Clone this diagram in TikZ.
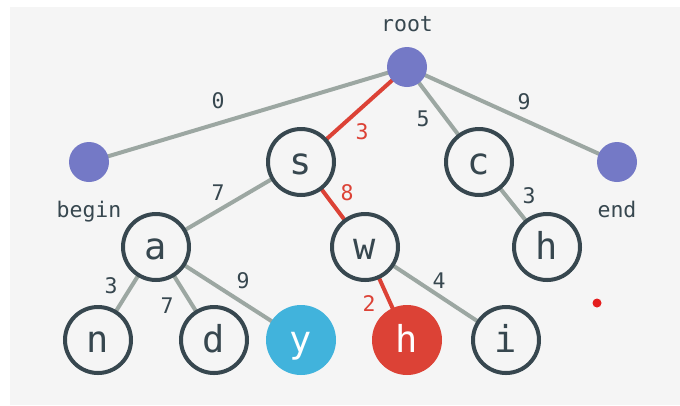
\documentclass[tikz,border=0pt]{standalone}
\usepackage{fontspec}
\newfontfamily\treefont{DejaVu Sans Mono}
\definecolor{panel}{HTML}{F5F5F5}
\definecolor{hubfill}{HTML}{7479C6}
\definecolor{edgegray}{HTML}{9CA7A2}
\definecolor{ink}{HTML}{37474F}
\definecolor{hot}{HTML}{DC4236}
\definecolor{sky}{HTML}{41B3DC}
\definecolor{marker}{HTML}{E41E1E}
\tikzset{
  hub/.style={circle, fill=hubfill, minimum size=40bp, inner sep=0pt},
  letter/.style={circle, draw=ink, line width=4bp, fill=panel, minimum size=66bp, inner sep=0pt,
    text=ink, font=\treefont\fontsize{37bp}{37bp}\selectfont, text height=25bp, text depth=0pt},
  picked/.style={letter, draw=none, fill=hot, text=white, minimum size=70bp},
  found/.style={letter, draw=none, fill=sky, text=white, minimum size=70bp},
  link/.style={draw=edgegray, line width=4bp},
  hotlink/.style={draw=hot, line width=4bp},
  weight/.style={anchor=base, inner sep=0pt, text=ink, font=\treefont\fontsize{21.5bp}{21.5bp}\selectfont},
  hotweight/.style={weight, text=hot},
  caption/.style={weight},
}
\begin{document}
\begin{tikzpicture}[x=1bp,y=-1bp]
\fill[white] (0,0) rectangle (680,405);
\fill[panel] (10,7) rectangle (680,405);
\useasboundingbox (0,0) rectangle (680,405);

% vertices
\coordinate (rootc) at (407,67);
\coordinate (beginc) at (89,162);
\coordinate (endc) at (617,162);
\coordinate (sc) at (301,162);
\coordinate (cc) at (479,162);
\coordinate (ac) at (156,247);
\coordinate (wc) at (365,247);
\coordinate (h1c) at (547,247);
\coordinate (nc) at (98,340);
\coordinate (dc) at (214,340);
\coordinate (yc) at (301,340);
\coordinate (h2c) at (407,340);
\coordinate (ic) at (506,340);

% connectors
\draw[link] (rootc) -- (beginc);
\draw[link] (rootc) -- (cc);
\draw[link] (rootc) -- (endc);
\draw[hotlink] (rootc) -- (sc);
\draw[link] (sc) -- (ac);
\draw[hotlink] (sc) -- (wc);
\draw[link] (cc) -- (h1c);
\draw[link] (ac) -- (nc);
\draw[link] (ac) -- (dc);
\draw[link] (ac) -- (yc);
\draw[hotlink] (wc) -- (h2c);
\draw[link] (wc) -- (ic);

% nodes
\node[hub] (root) at (rootc) {};
\node[hub] (begin) at (beginc) {};
\node[hub] (end) at (endc) {};
\node[letter] (s) at (sc) {s};
\node[letter] (c) at (cc) {c};
\node[letter] (a) at (ac) {a};
\node[letter] (w) at (wc) {w};
\node[letter] (h1) at (h1c) {h};
\node[letter] (n) at (nc) {n};
\node[letter] (d) at (dc) {d};
\node[found] (y) at (yc) {y};
\node[picked] (h2) at (h2c) {h};
\node[letter] (i) at (ic) {i};

% captions
\node[caption] (rootlbl) at (407,31) {root};
\node[caption] (beginlbl) at (89,217) {begin};
\node[caption] (endlbl) at (617,217) {end};

% weights
\node[weight] (w0) at (218,108) {0};
\node[hotweight] (w3r) at (362,139) {3};
\node[weight] (w5) at (423,126) {5};
\node[weight] (w9r) at (524,109) {9};
\node[weight] (w7s) at (218,200) {7};
\node[hotweight] (w8) at (347,200) {8};
\node[weight] (w3c) at (529,203) {3};
\node[weight] (w3a) at (111,293) {3};
\node[weight] (w7a) at (167,313) {7};
\node[weight] (w9a) at (243,288) {9};
\node[hotweight] (w2) at (369,311) {2};
\node[weight] (w4) at (439,288) {4};

% marker
\fill[marker] (597,303) circle (4.5bp);
\end{tikzpicture}
\end{document}
